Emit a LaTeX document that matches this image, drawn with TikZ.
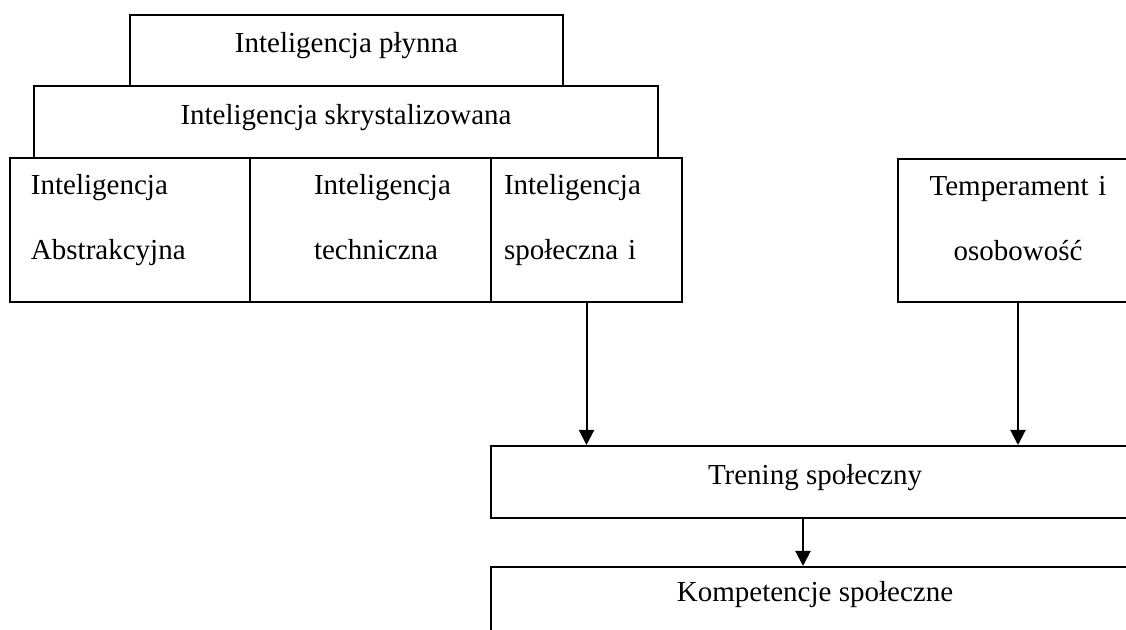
\documentclass[tikz,border=0pt]{standalone}
\usepackage{fontspec}
\setmainfont{Liberation Serif}
\usetikzlibrary{arrows.meta}

\tikzset{
	box/.style={draw, line width=1pt, anchor=north west, inner sep=0pt,
		text height=10pt, text depth=7.5pt},
	cell/.style={draw, line width=1pt, anchor=north west, align=left,
		minimum height=72pt, inner ysep=0pt, text height=10pt, text depth=45pt},
	arr/.style={line width=1pt, -{Triangle[width=7.5pt, length=7.5pt]}}
}

\begin{document}
\begin{tikzpicture}[x=0.5pt, y=-0.5pt, font=\fontsize{14.5pt}{32.5pt}\selectfont]

	\useasboundingbox (0, 0) rectangle (1126, 630);
	\clip (0, 0) rectangle (1126, 630);

	% pyramid on top
	\node[box, minimum width=216.5pt, minimum height=35.5pt] (plynna) at (129, 14) {Inteligencja płynna};
	\node[box, minimum width=312pt, minimum height=36pt] (skryst) at (33, 85) {Inteligencja skrystalizowana};

	% row of three kinds
	\node[cell, inner xsep=10.5pt, text width=99pt] (abstr) at (9, 157) {Inteligencja\\Abstrakcyjna};
	\node[cell, inner xsep=32pt, text width=56.5pt] (techn) at (249, 157) {Inteligencja\\techniczna};
	\node[cell, inner xsep=6.5pt, text width=82.5pt] (spol) at (490, 157) {Inteligencja\\społeczna i};

	\node[cell, align=center, inner xsep=0pt, text width=120pt, minimum height=71.5pt] (temper) at (897, 158) {Temperament i\\osobowość};

	% lower part, cut by the right edge
	\node[box, minimum width=324pt, minimum height=36pt] (tren) at (490, 445) {Trening społeczny};
	\node[box, minimum width=324pt, minimum height=32.5pt] (kompet) at (490, 566) {Kompetencje społeczne};

	\draw[arr] (spol.south) -- (spol.south |- tren.north);
	\draw[arr] (temper.south) -- (temper.south |- tren.north);
	\draw[arr] ([xshift=-6pt]tren.south) -- ([xshift=-6pt]kompet.north);
\end{tikzpicture}
\end{document}
